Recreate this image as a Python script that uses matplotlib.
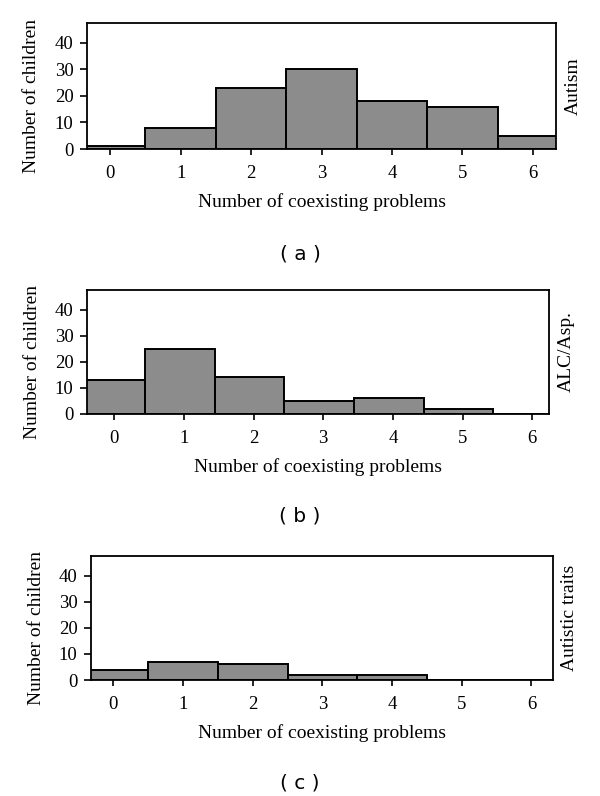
import numpy as np
import matplotlib
matplotlib.use("Agg")
import matplotlib.pyplot as plt

# Number of coexisting problems (x categories)
problems = [0, 1, 2, 3, 4, 5, 6]

# Number of children per group
autism = [1, 8, 23, 30, 18, 16, 5]
alc_asp = [13, 25, 14, 5, 6, 2, 0]
autistic_traits = [4, 7, 6, 2, 2, 0, 0]

group_names = ["Autism", "ALC/Asp.", "Autistic traits"]
panel_tags = ["( a )", "( b )", "( c )"]

plt.rcParams['font.family'] = ['Liberation Serif', 'DejaVu Serif']

fig = plt.figure(figsize=(6, 7.96), dpi=100)

# axes boxes in figure fractions [left, bottom, width, height]
boxes = [
    [0.145, 0.8128, 0.7817, 0.1583],
    [0.145, 0.4799, 0.7700, 0.1558],
    [0.1517, 0.1457, 0.7700, 0.1558],
]
xlims = [(-0.33, 6.33), (-0.39, 6.24), (-0.32, 6.31)]
shifts = [0.0, -0.06, 0.0]
tag_y = [0.681, 0.352, 0.0163]

for k, counts in enumerate([autism, alc_asp, autistic_traits]):
    ax = fig.add_axes(boxes[k])
    x = np.array(problems) + shifts[k]
    ax.bar(x, counts, width=1.0, color="#8c8c8c", edgecolor="black",
           linewidth=1.4, align="center")
    ax.set_xlim(*xlims[k])
    ax.set_ylim(0, 47.5)
    ax.set_xticks(problems)
    ax.set_yticks([0, 10, 20, 30, 40])
    ax.tick_params(axis="both", direction="out", width=1.2,
                   labelsize=13.5, colors="black")
    ax.tick_params(axis="y", length=5.3, pad=4.5)
    ax.tick_params(axis="x", length=4, pad=7.5)
    for s in ax.spines.values():
        s.set_linewidth(1.3)
    ax.set_xlabel("Number of coexisting problems", fontsize=14, labelpad=8)
    ax.set_ylabel("Number of children", fontsize=14)
    ax.yaxis.set_label_coords(-0.1, 0.42)
    ax.text(1.018, 0.5, group_names[k], transform=ax.transAxes, rotation=90,
            ha="left", va="center", fontsize=14)
    fig.text(0.5, tag_y[k], panel_tags[k], ha="center", va="center",
             fontsize=14.5, family="DejaVu Sans")

fig.savefig("out.png", dpi=100)
